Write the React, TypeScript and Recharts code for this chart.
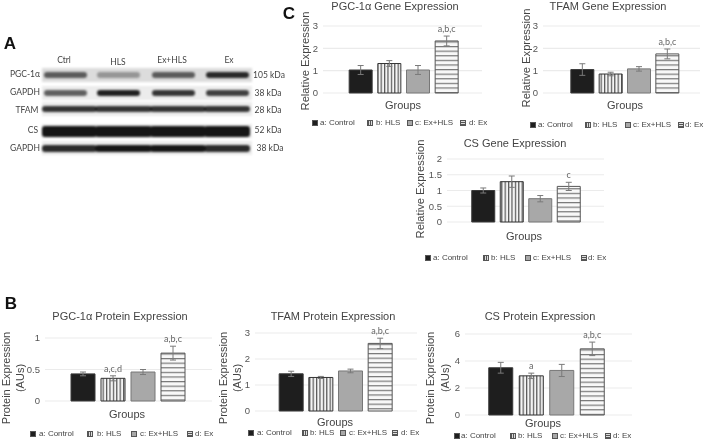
import { BarChart, Bar, XAxis, YAxis, CartesianGrid, ErrorBar, Cell, LabelList } from "recharts";

const groups = ["a: Control", "b: HLS", "c: Ex+HLS", "d: Ex"];

const pgcGene = [1.03, 1.32, 1.03, 2.33];
const pgcGeneErr = [0.2, 0.13, 0.2, 0.22];
const pgcGeneSig = ["", "", "", "a,b,c"];

const tfamGene = [1.05, 0.85, 1.08, 1.75];
const tfamGeneErr = [0.26, 0.08, 0.1, 0.22];
const tfamGeneSig = ["", "", "", "a,b,c"];

const csGene = [1.0, 1.28, 0.74, 1.13];
const csGeneErr = [0.08, 0.18, 0.1, 0.13];
const csGeneSig = ["", "", "", "c"];

const pgcProtein = [0.43, 0.36, 0.46, 0.76];
const pgcProteinErr = [0.03, 0.04, 0.04, 0.11];
const pgcProteinSig = ["", "a,c,d", "", "a,b,c"];

const tfamProtein = [1.43, 1.29, 1.54, 2.6];
const tfamProteinErr = [0.1, 0.04, 0.07, 0.2];
const tfamProteinSig = ["", "", "", "a,b,c"];

const csProtein = [3.5, 2.9, 3.3, 4.9];
const csProteinErr = [0.4, 0.2, 0.45, 0.5];
const csProteinSig = ["", "a", "", "a,b,c"];

const laneLabels = ["Ctrl", "HLS", "Ex+HLS", "Ex"];
const blotProteins = ["PGC-1α", "GAPDH", "TFAM", "CS", "GAPDH"];
const blotSizes = ["105 kDa", "38 kDa", "28 kDa", "52 kDa", "38 kDa"];
const blotBands = [
  [0.65, 0.35, 0.65, 0.9],
  [0.65, 0.95, 0.85, 0.8],
  [0.85, 0.85, 0.85, 0.85],
  [1, 1, 1, 1],
  [0.9, 1, 1, 0.9],
];

const SANS = "'Liberation Sans', Arial, sans-serif";
const fills = ["#1e1e1e", "url(#stripeV)", "#a8a8a8", "url(#stripeH)"];
const strokes = ["#3a3a3a", "#333333", "#777777", "#555555"];
const swatches = [
  "#1e1e1e",
  "repeating-linear-gradient(90deg, #555 0 1px, #ddd 1px 2.2px)",
  "#a8a8a8",
  "repeating-linear-gradient(0deg, #555 0 1px, #ddd 1px 2.2px)",
];

const Caption = ({ x, y, size = 11, rotate = 0, color = "#444", weight = 400, font = SANS, children }: any) => (
  <div
    style={{
      position: "absolute",
      left: x,
      top: y,
      transform: `translate(-50%, -50%) rotate(${rotate}deg)`,
      fontFamily: font,
      fontSize: size,
      fontWeight: weight,
      color,
      whiteSpace: "nowrap",
      lineHeight: 1,
    }}
  >
    {children}
  </div>
);

const LegendRow = ({ y, swatchX, textX }: any) => (
  <>
    {groups.map((g, i) => (
      <div key={g}>
        <div
          style={{
            position: "absolute",
            left: swatchX[i],
            top: y - 3,
            width: 6,
            height: 6,
            boxSizing: "border-box",
            border: "1px solid #555",
            background: swatches[i],
          }}
        />
        <div
          style={{
            position: "absolute",
            left: textX[i],
            top: y - 5,
            fontFamily: SANS,
            fontSize: 8,
            lineHeight: "10px",
            color: "#444",
            whiteSpace: "nowrap",
          }}
        >
          {g}
        </div>
      </div>
    ))}
  </>
);

const ExpressionChart = ({ values, errors, sig, ticks, left, right, top, bottom, firstBar, lastBar, barSize }: any) => {
  const rows = groups.map((g, i) => ({ group: g, value: values[i], err: errors[i], sig: sig[i] }));
  const yMax = ticks[ticks.length - 1];
  const band = (lastBar - firstBar) / 3;
  const plotH = bottom - top;
  const marginTop = 26;
  const axisW = 24;

  const renderSig = (p: any) => {
    if (!p.value) return null;
    const errPx = (errors[p.index] / yMax) * plotH;
    return (
      <text x={p.x + p.width / 2} y={p.y - errPx - 4} textAnchor="middle" fontFamily="Lato" fontSize={9} fill="#666">
        {p.value}
      </text>
    );
  };

  return (
    <div style={{ position: "absolute", left: left - axisW, top: top - marginTop }}>
      <BarChart
        width={right - left + axisW}
        height={plotH + marginTop + 6}
        data={rows}
        margin={{ top: marginTop, right: 0, bottom: 6, left: 0 }}
      >
        <defs>
          <pattern id="stripeV" width="3.4" height="4" patternUnits="userSpaceOnUse">
            <rect width="3.4" height="4" fill="#f4f4f4" />
            <rect width="1.2" height="4" fill="#555" />
          </pattern>
          <pattern id="stripeH" width="4" height="4.6" patternUnits="userSpaceOnUse">
            <rect width="4" height="4.6" fill="#f8f8f8" />
            <rect width="4" height="1.2" fill="#777" />
          </pattern>
        </defs>
        <CartesianGrid vertical={false} stroke="#ebebeb" strokeWidth={1.2} />
        <XAxis
          dataKey="group"
          hide
          padding={{ left: firstBar - band / 2 - left, right: right - lastBar - band / 2 }}
        />
        <YAxis
          width={axisW}
          domain={[0, yMax]}
          ticks={ticks}
          interval={0}
          axisLine={false}
          tickLine={false}
          tickSize={0}
          tickMargin={5}
          tick={{ fontSize: 9.5, fontFamily: SANS, fill: "#555" }}
        />
        <Bar dataKey="value" barSize={barSize} strokeWidth={1} isAnimationActive={false}>
          {rows.map((r, i) => (
            <Cell key={r.group} fill={fills[i]} stroke={strokes[i]} />
          ))}
          <ErrorBar dataKey="err" width={3} stroke="#7a7a7a" strokeWidth={1} />
          <LabelList dataKey="sig" content={renderSig} />
        </Bar>
      </BarChart>
    </div>
  );
};

const Blot = () => {
  const rowY = [75, 93, 109, 131, 148];
  const rowH = [6, 6, 6, 11, 7];
  const laneX = [44, 97, 152, 206, 250];
  return (
    <>
      <Caption x={10} y={43} size={17} weight={700} color="#111">A</Caption>
      {laneLabels.map((l, i) => (
        <Caption key={l} x={[64, 118, 172, 229][i]} y={i === 1 ? 62 : 60} size={8.5} font="Lato">{l}</Caption>
      ))}
      <div style={{ position: "absolute", left: 42, top: 66, width: 210, height: 94, filter: "blur(1px)" }}>
        {rowY.map((y, r) => (
          <div key={r} style={{ position: "absolute", left: 0, top: y - 66 - 7, width: 210, height: 14, background: r === 0 ? "#dcdcdc" : "#ececec" }} />
        ))}
      </div>
      <div style={{ position: "absolute", left: 0, top: 0, width: 300, height: 170, filter: "blur(0.9px)" }}>
        {blotBands.map((row, r) =>
          row.map((v, i) => (
            <div
              key={`${r}-${i}`}
              style={{
                position: "absolute",
                left: laneX[i] - (r >= 2 ? 2 : 0),
                top: rowY[r] - rowH[r] / 2,
                width: r >= 2 ? laneX[i + 1] - laneX[i] + 2 : 43,
                height: rowH[r],
                borderRadius: 3,
                background: "#151515",
                opacity: v,
              }}
            />
          ))
        )}
      </div>
      {blotProteins.map((p, i) => (
        <Caption key={i} x={[25, 25, 27, 33, 25][i]} y={[74, 92, 110, 130, 148][i]} size={8.5} font="Lato">{p}</Caption>
      ))}
      {blotSizes.map((s, i) => (
        <Caption key={i} x={[269, 268, 268, 268, 270][i]} y={[75, 93, 110, 130, 148][i]} size={8.5} font="Lato">{s}</Caption>
      ))}
    </>
  );
};

export default function App() {
  return (
    <div style={{ position: "absolute", left: 0, top: 0, width: 705, height: 441, background: "#fff", overflow: "hidden", filter: "blur(0.3px)" }}>
      <Blot />

      <Caption x={289} y={13} size={17} weight={700} color="#111">C</Caption>
      <Caption x={395} y={6}>PGC-1α Gene Expression</Caption>
      <Caption x={306} y={61} size={11.2} rotate={-90}>Relative Expression</Caption>
      <Caption x={403} y={105} size={11}>Groups</Caption>
      <ExpressionChart values={pgcGene} errors={pgcGeneErr} sig={pgcGeneSig} ticks={[0, 1, 2, 3]}
        left={323} right={482} top={26} bottom={93} firstBar={360.5} lastBar={446.5} barSize={23} />
      <LegendRow y={123} swatchX={[312, 367, 407, 460]} textX={[320, 376, 415, 469]} />

      <Caption x={608} y={6}>TFAM Gene Expression</Caption>
      <Caption x={527} y={58} size={11.2} rotate={-90}>Relative Expression</Caption>
      <Caption x={625} y={105} size={11}>Groups</Caption>
      <ExpressionChart values={tfamGene} errors={tfamGeneErr} sig={tfamGeneSig} ticks={[0, 1, 2, 3]}
        left={543} right={700} top={26} bottom={93} firstBar={582} lastBar={667} barSize={23} />
      <LegendRow y={125} swatchX={[530, 585, 625, 678]} textX={[538, 593, 633, 685]} />

      <Caption x={515} y={143}>CS Gene Expression</Caption>
      <Caption x={421} y={189} size={11.2} rotate={-90}>Relative Expression</Caption>
      <Caption x={524} y={236} size={11}>Groups</Caption>
      <ExpressionChart values={csGene} errors={csGeneErr} sig={csGeneSig} ticks={[0, 0.5, 1, 1.5, 2]}
        left={447} right={604} top={159} bottom={222} firstBar={483} lastBar={568.5} barSize={23} />
      <LegendRow y={258} swatchX={[425, 483, 525, 581]} textX={[433, 491, 533, 588]} />

      <Caption x={11} y={303} size={17} weight={700} color="#111">B</Caption>
      <Caption x={120} y={316}>PGC-1α Protein Expression</Caption>
      <Caption x={6} y={378} size={11} rotate={-90}>Protein Expression</Caption>
      <Caption x={20} y={378} size={11} rotate={-90}>(AUs)</Caption>
      <Caption x={127} y={414} size={11}>Groups</Caption>
      <ExpressionChart values={pgcProtein} errors={pgcProteinErr} sig={pgcProteinSig} ticks={[0, 0.5, 1]}
        left={45} right={212} top={338} bottom={401} firstBar={83} lastBar={173} barSize={24} />
      <LegendRow y={434} swatchX={[30, 87, 131, 187]} textX={[39, 97, 140, 195]} />

      <Caption x={333} y={316}>TFAM Protein Expression</Caption>
      <Caption x={223} y={378} size={11} rotate={-90}>Protein Expression</Caption>
      <Caption x={237} y={378} size={11} rotate={-90}>(AUs)</Caption>
      <Caption x={335} y={422} size={11}>Groups</Caption>
      <ExpressionChart values={tfamProtein} errors={tfamProteinErr} sig={tfamProteinSig} ticks={[0, 1, 2, 3]}
        left={255} right={417} top={333} bottom={411} firstBar={291} lastBar={380} barSize={24} />
      <LegendRow y={433} swatchX={[248, 302, 340, 392]} textX={[257, 310, 349, 401]} />

      <Caption x={540} y={316}>CS Protein Expression</Caption>
      <Caption x={430} y={378} size={11} rotate={-90}>Protein Expression</Caption>
      <Caption x={445} y={378} size={11} rotate={-90}>(AUs)</Caption>
      <Caption x={543} y={423} size={11}>Groups</Caption>
      <ExpressionChart values={csProtein} errors={csProteinErr} sig={csProteinSig} ticks={[0, 2, 4, 6]}
        left={465} right={632} top={334} bottom={415} firstBar={501} lastBar={592.5} barSize={24} />
      <LegendRow y={436} swatchX={[454, 510, 552, 605]} textX={[461, 518, 560, 613]} />
    </div>
  );
}
